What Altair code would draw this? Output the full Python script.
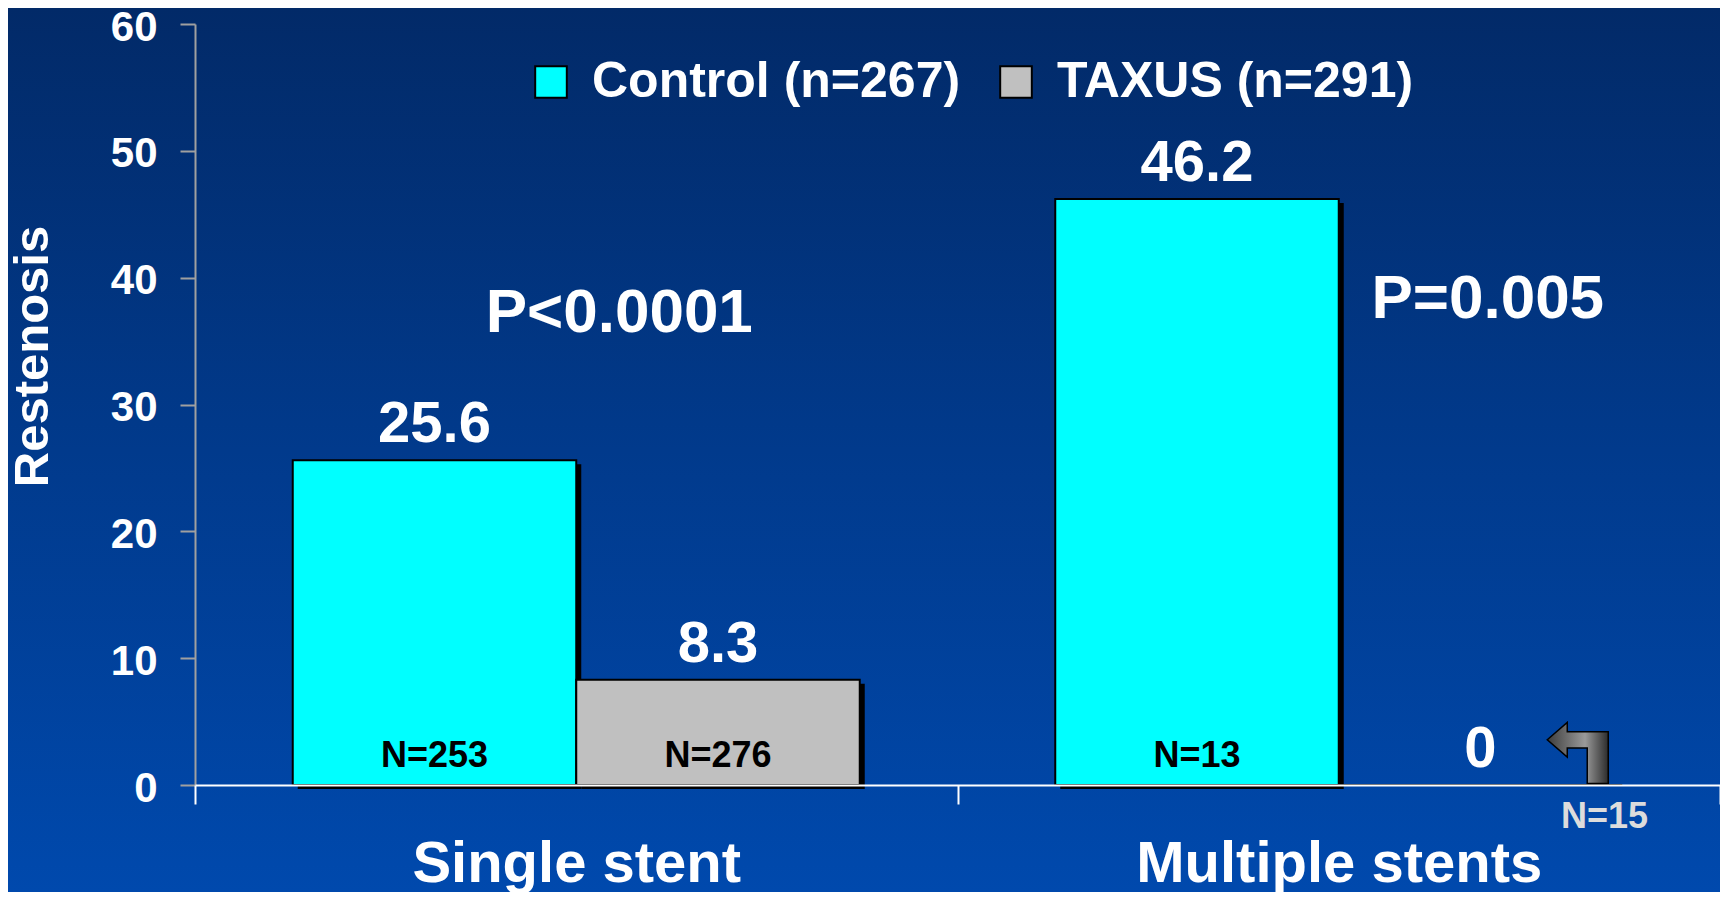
import altair as alt
import pandas as pd

groups = ["Single stent", "Single stent", "Multiple stents", "Multiple stents"]
series = ["Control (n=267)", "TAXUS (n=291)", "Control (n=267)", "TAXUS (n=291)"]
values = [25.6, 8.3, 46.2, 0.0]
value_labels = ["25.6", "8.3", "46.2", "0"]
n_labels = ["N=253", "N=276", "N=13", "N=15"]

group_order = ["Single stent", "Multiple stents"]
series_order = ["Control (n=267)", "TAXUS (n=291)"]
series_colors = ["#00ffff", "#c0c0c0"]

p_groups = ["Single stent", "Multiple stents"]
p_texts = ["P<0.0001", "P=0.005"]
p_y = [35.7, 36.8]
p_dx = [43, 149]

W, H = 1525, 761
PAD_L, PAD_T, PAD_R, PAD_B = 187, 16, 0, 107
FONT = "Liberation Sans"

df = pd.DataFrame({"group": groups, "series": series, "value": values,
                   "vlabel": value_labels, "nlabel": n_labels})
pdf = pd.DataFrame({"group": p_groups, "ptext": p_texts, "py": p_y, "pdx": p_dx})

x_enc = alt.X("group:N", sort=group_order,
              scale=alt.Scale(domain=group_order, paddingInner=0, paddingOuter=0),
              axis=alt.Axis(title=None, tickBand="extent", tickSize=19, tickWidth=2,
                            tickColor="white", domainColor="white", domainWidth=2,
                            labelColor="white", labelFont=FONT, labelFontWeight="bold",
                            labelFontSize=58, labelPadding=31, labelBaseline="top",
                            labelAngle=0, labelLimit=0, labelOverlap=False,
                            zindex=2))
off_scale = alt.Scale(domain=series_order, paddingInner=0, paddingOuter=0.3448,
                      range=[0, W / 2])
off_scale_sh = alt.Scale(domain=series_order, paddingInner=0, paddingOuter=0.3448,
                         range=[5, W / 2 + 5])
off_scale_pt = alt.Scale(type="point", domain=series_order, padding=0.8448,
                         range=[0, W / 2])
y_scale = alt.Scale(domain=[0, 60], nice=False)
y_enc = alt.Y("value:Q", scale=y_scale,
              axis=alt.Axis(title="Restenosis", values=[0, 10, 20, 30, 40, 50, 60],
                            grid=False, domainColor="#a0a0a0", domainWidth=2,
                            tickColor="#a0a0a0", tickWidth=2, tickSize=15,
                            labelColor="white", labelFont=FONT, labelFontWeight="bold",
                            labelFontSize=42, labelPadding=23, labelOffset=3,
                            titleColor="white", titleFont=FONT, titleFontWeight="bold",
                            titleFontSize=49, titleAngle=-90, titleX=-163, titleY=332,
                            titleAlign="center", titleBaseline="middle", zindex=1))

bg = alt.Chart(pd.DataFrame({"a": [0]})).mark_rect(
    fill=alt.LinearGradient(gradient="linear", x1=0, x2=0, y1=0, y2=1,
                            stops=[alt.GradientStop(offset=0, color="#022a68"),
                                   alt.GradientStop(offset=0.5, color="#013a8c"),
                                   alt.GradientStop(offset=1, color="#0049ad")])
).encode(x=alt.value(-PAD_L), x2=alt.value(W + PAD_R),
         y=alt.value(-PAD_T), y2=alt.value(H + PAD_B))

base = alt.Chart(df)

shadow = base.mark_bar(color="black", yOffset=4, y2Offset=3).encode(
    x=x_enc,
    xOffset=alt.XOffset("series:N", sort=series_order, scale=off_scale_sh),
    y=y_enc,
)

bars = base.mark_bar(stroke="black", strokeWidth=2).encode(
    x=x_enc,
    xOffset=alt.XOffset("series:N", sort=series_order, scale=off_scale),
    y=y_enc,
    color=alt.Color("series:N", sort=series_order,
                    scale=alt.Scale(domain=series_order, range=series_colors),
                    legend=alt.Legend(title=None, orient="none", legendX=331, legendY=33,
                                      direction="horizontal", symbolType="square",
                                      symbolSize=1000, symbolStrokeColor="black",
                                      symbolStrokeWidth=2, labelColor="white",
                                      labelFont=FONT, labelFontWeight="bold",
                                      labelFontSize=50, labelOffset=16,
                                      columnPadding=30, labelLimit=0)),
)

vlabels = base.mark_text(color="white", font=FONT, fontWeight="bold", fontSize=58,
                         baseline="alphabetic", dy=-18).encode(
    x=x_enc,
    xOffset=alt.XOffset("series:N", sort=series_order, scale=off_scale_pt),
    y=y_enc,
    text="vlabel:N",
)

nlabels = base.transform_filter(alt.datum.value > 0).transform_calculate(
    zero="0").mark_text(
    color="black", font=FONT, fontWeight="bold", fontSize=36,
    baseline="alphabetic", dy=-18).encode(
    x=x_enc,
    xOffset=alt.XOffset("series:N", sort=series_order, scale=off_scale_pt),
    y=alt.Y("zero:Q", scale=y_scale),
    text="nlabel:N",
)

nzero = base.transform_filter(alt.datum.value == 0).mark_text(
    color="#dcdcdc", font=FONT, fontWeight="bold", fontSize=36,
    baseline="alphabetic", dy=43, dx=124).encode(
    x=x_enc,
    xOffset=alt.XOffset("series:N", sort=series_order, scale=off_scale_pt),
    y=alt.Y("value:Q", scale=y_scale),
    text="nlabel:N",
)

arrow_path = ("M -1 -0.433 L -0.344 -1 L -0.344 -0.7 L 1 -0.7 L 1 1 L 0.311 1 "
              "L 0.311 -0.167 L -0.344 -0.167 L -0.344 0.133 Z")
arrow = base.transform_filter(alt.datum.value == 0).mark_point(
    shape=arrow_path, size=3721, filled=True, opacity=1,
    fill=alt.LinearGradient(gradient="linear", x1=0, x2=1, y1=0, y2=0,
                            stops=[alt.GradientStop(offset=0, color="#3c3c3c"),
                                   alt.GradientStop(offset=0.62, color="#9a9a9a"),
                                   alt.GradientStop(offset=1, color="#2c2c2c")]),
    stroke="black", strokeWidth=1.5, xOffset=239, yOffset=-32,
).encode(
    x=x_enc,
    y=alt.Y("value:Q", scale=y_scale),
)

p1 = alt.Chart(pdf).transform_filter(alt.datum.group == "Single stent").mark_text(
    color="white", font=FONT, fontWeight="bold", fontSize=62,
    baseline="alphabetic", align="center", dx=p_dx[0]).encode(
    x=alt.X("group:N", sort=group_order),
    y=alt.Y("py:Q", scale=y_scale),
    text="ptext:N",
)
p2 = alt.Chart(pdf).transform_filter(alt.datum.group == "Multiple stents").mark_text(
    color="white", font=FONT, fontWeight="bold", fontSize=62,
    baseline="alphabetic", align="center", dx=p_dx[1]).encode(
    x=alt.X("group:N", sort=group_order),
    y=alt.Y("py:Q", scale=y_scale),
    text="ptext:N",
)

chart = alt.layer(bg, shadow, bars, vlabels, nlabels, nzero, arrow, p1, p2).resolve_scale(
    xOffset="independent"
).properties(
    width=W, height=H,
    autosize=alt.AutoSizeParams(type="none"),
    padding={"left": PAD_L, "top": PAD_T, "right": PAD_R, "bottom": PAD_B},
    background="#013a8c",
).configure_view(stroke=None)

chart.save("out.html", embed_options={"renderer": "svg", "actions": False})
